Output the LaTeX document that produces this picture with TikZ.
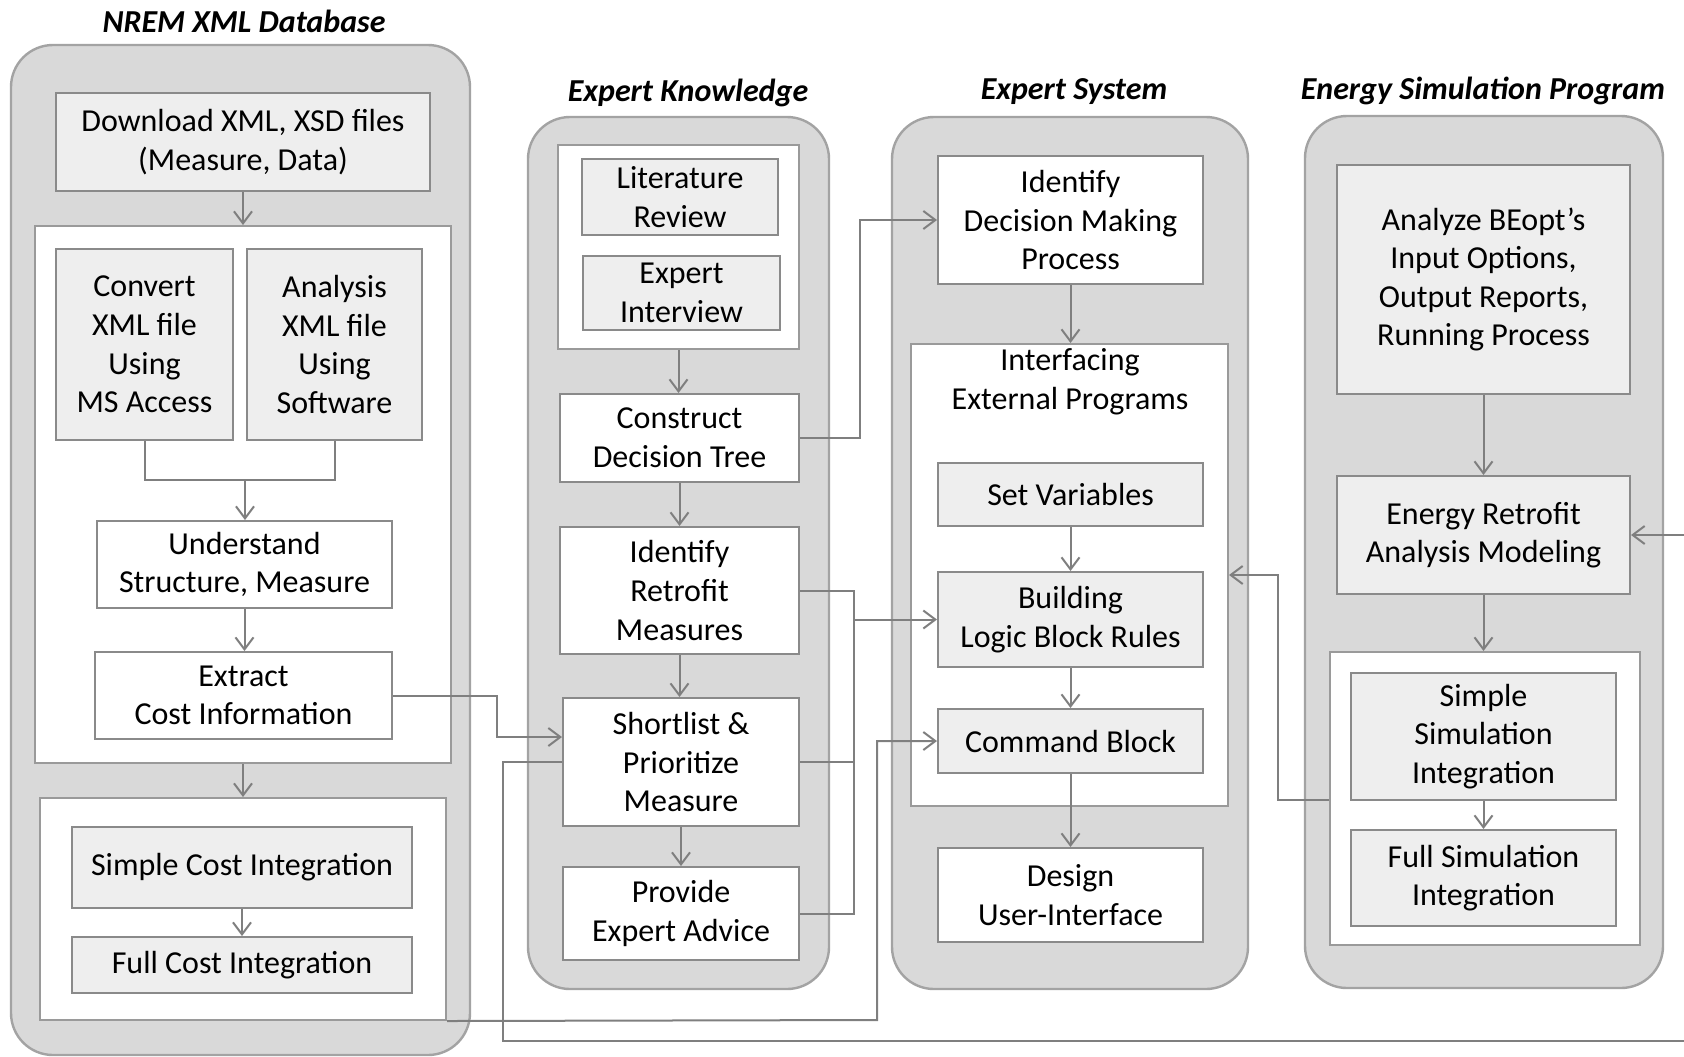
\documentclass[tikz,border=0pt]{standalone}
\usepackage{fontspec}
\setmainfont{Carlito}
\usetikzlibrary{arrows.meta}

\definecolor{holdfill}{HTML}{D9D9D9}
\definecolor{holdline}{HTML}{A3A3A3}
\definecolor{panline}{HTML}{9A9A9A}
\definecolor{boxfill}{HTML}{EEEEEE}
\definecolor{boxline}{HTML}{8A8A8A}
\definecolor{linegray}{HTML}{7F7F7F}

\begin{document}
\begin{tikzpicture}[x=0.5pt, y=-0.5pt, >={Straight Barb[length=6pt, width=9pt]},
    every node/.style={font=\fontsize{16}{19.3}\selectfont},
    holder/.style={draw=holdline, fill=holdfill, line width=1.2pt, rounded corners=21pt},
    panel/.style={draw=panline, fill=white, line width=1pt, inner sep=0pt},
    gbox/.style={draw=boxline, fill=boxfill, line width=1pt, align=center, inner sep=0pt},
    wbox/.style={gbox, fill=white},
    heading/.style={font=\fontsize{16}{19.3}\selectfont\bfseries\itshape},
    flow/.style={->, draw=linegray, line width=1pt},
    link/.style={draw=linegray, line width=1pt}]
    \useasboundingbox (0,0) rectangle (1684,1056);

    % NREM XML Database
    \node[heading] (tn) at (244,21) {NREM XML Database};
    \draw[holder] (11,45) rectangle (470,1055);
    \node[gbox, minimum width=187pt, minimum height=49pt] (dl) at (243,142) {Download XML, XSD files\\(Measure, Data)};
    \node[panel, minimum width=208pt, minimum height=268.5pt] (pa) at (243,494.5) {};
    \node[gbox, minimum width=88.5pt, minimum height=95.5pt] (cv) at (144.5,344.5) {Convert\\XML file\\Using\\MS Access};
    \node[gbox, minimum width=87.5pt, minimum height=95.5pt] (an) at (334.5,344.5) {Analysis\\XML file\\Using\\Software};
    \node[wbox, minimum width=147.5pt, minimum height=43.5pt] (us) at (244.5,564.5) {Understand\\Structure, Measure};
    \node[wbox, minimum width=148.5pt, minimum height=43.5pt] (ex) at (243.5,695.5) {Extract\\Cost Information};
    \node[panel, minimum width=203pt, minimum height=111pt] (pb) at (243,909) {};
    \node[gbox, minimum width=170pt, minimum height=40.5pt] (sc) at (242,867.5) {Simple Cost Integration};
    \node[gbox, minimum width=170pt, minimum height=28pt] (fc) at (242,965) {Full Cost Integration};

    % Expert Knowledge
    \node[heading] (tk) at (688,93) {Expert Knowledge};
    \draw[holder] (528,117) rectangle (829,989);
    \node[panel, minimum width=120.5pt, minimum height=102pt] (pc) at (678.5,247) {};
    \node[gbox, minimum width=98pt, minimum height=38pt] (lr) at (680,197) {Literature\\Review};
    \node[gbox, minimum width=98.5pt, minimum height=37pt] (ei) at (681.5,293) {Expert\\Interview};
    \node[wbox, minimum width=119.5pt, minimum height=44pt] (ct) at (679.5,438) {Construct\\Decision Tree};
    \node[wbox, minimum width=119.5pt, minimum height=63.5pt] (ir) at (679.5,590.5) {Identify\\Retrofit\\Measures};
    \node[wbox, minimum width=118pt, minimum height=64pt] (sl) at (681,762) {Shortlist \&\\Prioritize\\Measure};
    \node[wbox, minimum width=118pt, minimum height=46.5pt] (pe) at (681,913.5) {Provide\\Expert Advice};

    % Expert System
    \node[heading] (ts) at (1074,92) {Expert System};
    \draw[holder] (892,117) rectangle (1248,989);
    \node[wbox, minimum width=132.5pt, minimum height=64pt] (id) at (1070.5,220) {Identify\\Decision Making\\Process};
    \node[panel, minimum width=158.5pt, minimum height=231pt] (pd) at (1069.5,575) {};
    \node[align=center] (ie) at (1070,382) {Interfacing\\External Programs};
    \node[gbox, minimum width=132.5pt, minimum height=31.5pt] (sv) at (1070.5,494.5) {Set Variables};
    \node[gbox, minimum width=132.5pt, minimum height=47.5pt] (bl) at (1070.5,619.5) {Building\\Logic Block Rules};
    \node[gbox, minimum width=132.5pt, minimum height=32pt] (cb) at (1070.5,741) {Command Block};
    \node[wbox, minimum width=132.5pt, minimum height=47pt] (ui) at (1070.5,895) {Design\\User-Interface};

    % Energy Simulation Program
    \node[heading] (te) at (1483,91) {Energy Simulation Program};
    \draw[holder] (1305,116) rectangle (1663,988);
    \node[gbox, minimum width=146.5pt, minimum height=114.5pt] (az) at (1483.5,279.5) {Analyze BEopt’s\\Input Options,\\Output Reports,\\Running Process};
    \node[gbox, minimum width=146.5pt, minimum height=59pt] (er) at (1483.5,535) {Energy Retrofit\\Analysis Modeling};
    \node[panel, minimum width=155pt, minimum height=146.5pt] (pz) at (1485,798.5) {};
    \node[gbox, minimum width=132.5pt, minimum height=63.5pt] (ss) at (1483.5,736.5) {Simple\\Simulation\\Integration};
    \node[gbox, minimum width=132.5pt, minimum height=48pt] (fs) at (1483.5,878) {Full Simulation\\Integration};

    % flow inside the columns
    \coordinate (j) at (245,480);
    \draw[flow] (dl) -- (pa);
    \draw[link] (cv.south) |- (an.south |- j) -- (an.south);
    \draw[flow] (j) -- (j |- us.north);
    \draw[flow] (us.south) -- (us.south |- ex.north);
    \draw[flow] (pa) -- (pb);
    \draw[flow] (sc) -- (fc);
    \draw[flow] (pc.south) -- (pc.south |- ct.north);
    \draw[flow] (ct) -- (ir);
    \draw[flow] (ir.south) -- (ir.south |- sl.north);
    \draw[flow] (sl) -- (pe);
    \draw[flow] (id) -- (id |- pd.north);
    \draw[flow] (sv) -- (bl);
    \draw[flow] (bl) -- (cb);
    \draw[flow] (cb) -- (ui);
    \draw[flow] (az) -- (er);
    \draw[flow] (er.south) -- (er.south |- pz.north);
    \draw[flow] (ss) -- (fs);

    % links between the columns
    \coordinate (ka) at (497,737);
    \draw[flow] (ex.east) -| (ka) -- (ka -| sl.west);
    \coordinate (kb) at (860,220);
    \draw[flow] (ct.east) -| (kb) -- (id.west);
    \coordinate (kc) at (854,619.5);
    \draw[link] (ir.east) -| (854,913.5) -- (pe.east);
    \draw[link] (sl.east) -- (sl.east -| kc);
    \draw[flow] (kc) -- (bl.west);
    \coordinate (kd) at (877,1020);
    \draw[flow] (pb.south east) -- (kd) |- (cb.west);
    \coordinate (ke) at (503,1041);
    \coordinate (kr) at (1686,1041);
    \draw[flow] (sl.west) -| (ke) -- (kr) |- (er.east);
    \coordinate (kf) at (1278,800);
    \draw[flow] (pz.west |- kf) -- (kf) |- (pd.east);
\end{tikzpicture}
\end{document}
